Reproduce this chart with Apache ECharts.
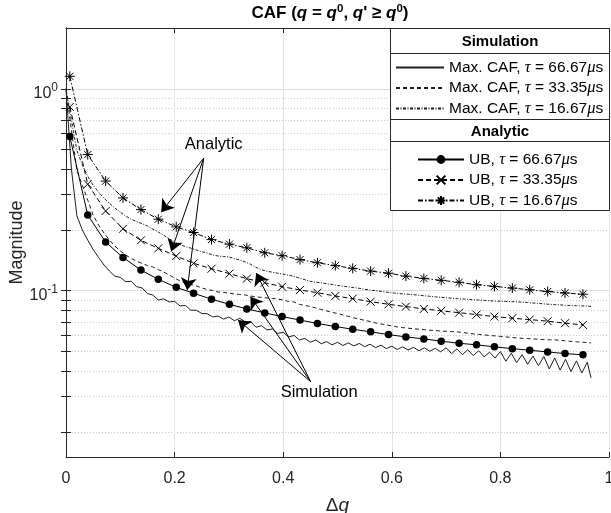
<!DOCTYPE html>
<html>
<head>
<meta charset="utf-8">
<script src="https://cdn.jsdelivr.net/npm/echarts@6/dist/echarts.min.js"></script>
<style>
  html, body { margin: 0; padding: 0; background: #fff; }
  #chart { width: 611px; height: 513px; }
</style>
</head>
<body>
<div id="chart"></div>
<script>
// ---- Analytic upper bounds (marker positions along Δq) ----
const ubDq = [0.007, 0.040, 0.073, 0.105, 0.138, 0.170, 0.203, 0.235, 0.268, 0.301,
              0.333, 0.366, 0.398, 0.431, 0.463, 0.496, 0.528, 0.561, 0.594, 0.626,
              0.659, 0.691, 0.724, 0.756, 0.789, 0.822, 0.854, 0.887, 0.919, 0.952];
const ub66 = [0.580, 0.237, 0.174, 0.146, 0.1265, 0.1138, 0.1039, 0.0971, 0.0907, 0.0856,
              0.0812, 0.0776, 0.0744, 0.0715, 0.0688, 0.0664, 0.0644, 0.0625, 0.0606, 0.0590,
              0.0577, 0.0562, 0.0549, 0.0539, 0.0527, 0.0516, 0.0507, 0.0497, 0.0488, 0.0481];
const ub33 = [0.813, 0.337, 0.248, 0.2025, 0.1775, 0.162, 0.1484, 0.1366, 0.1284, 0.1214,
              0.1147, 0.1095, 0.1046, 0.1008, 0.0977, 0.0941, 0.0913, 0.0882, 0.0856, 0.0834,
              0.0812, 0.0794, 0.0778, 0.0761, 0.0744, 0.0730, 0.0719, 0.0706, 0.0690, 0.0677];
const ub16 = [1.153, 0.472, 0.349, 0.288, 0.252, 0.226, 0.207, 0.194, 0.179, 0.170,
              0.163, 0.154, 0.149, 0.1425, 0.1375, 0.133, 0.129, 0.125, 0.122, 0.118,
              0.115, 0.1125, 0.110, 0.107, 0.105, 0.103, 0.101, 0.099, 0.0974, 0.0960];

// ---- Simulated maximum CAF ----
const simDq = [0.00, 0.01, 0.02, 0.03, 0.04, 0.05, 0.06, 0.07, 0.08, 0.09,
               0.10, 0.11, 0.12, 0.13, 0.14, 0.15, 0.16, 0.17, 0.18, 0.19,
               0.20, 0.21, 0.22, 0.23, 0.24, 0.25, 0.26, 0.27, 0.28, 0.29,
               0.30, 0.31, 0.32, 0.33, 0.34, 0.35, 0.36, 0.37, 0.38, 0.39,
               0.40, 0.41, 0.42, 0.43, 0.44, 0.45, 0.46, 0.47, 0.48, 0.49,
               0.50, 0.51, 0.52, 0.53, 0.54, 0.55, 0.56, 0.57, 0.58, 0.59,
               0.60, 0.61, 0.62, 0.63, 0.64, 0.65, 0.66, 0.67, 0.68, 0.69,
               0.70, 0.71, 0.72, 0.73, 0.74, 0.75, 0.76, 0.77, 0.78, 0.79,
               0.80, 0.81, 0.82, 0.83, 0.84, 0.85, 0.86, 0.87, 0.88, 0.89,
               0.90, 0.91, 0.92, 0.93, 0.94, 0.95, 0.96, 0.967];
const sim66 = [1.0, 0.40, 0.235, 0.200, 0.178, 0.160, 0.146, 0.134, 0.125, 0.118,
               0.1164, 0.1107, 0.1113, 0.1047, 0.1032, 0.0968, 0.0951, 0.0899, 0.0911, 0.0879,
               0.0886, 0.0840, 0.0845, 0.0800, 0.0800, 0.0771, 0.0769, 0.0741, 0.0749, 0.0723,
               0.0740, 0.0710, 0.0730, 0.0700, 0.0702, 0.0659, 0.0671, 0.0639, 0.0646, 0.0614,
               0.0622, 0.0590, 0.0600, 0.0570, 0.0580, 0.0555, 0.0570, 0.0546, 0.0559, 0.0539,
               0.0555, 0.0535, 0.0551, 0.0532, 0.0548, 0.0528, 0.0543, 0.0522, 0.0537, 0.0516,
               0.0531, 0.0511, 0.0527, 0.0508, 0.0524, 0.0504, 0.0521, 0.0501, 0.0518, 0.0498,
               0.0521, 0.0488, 0.0515, 0.0482, 0.0510, 0.0477, 0.0504, 0.0470, 0.0496, 0.0464,
               0.0499, 0.0447, 0.0490, 0.0440, 0.0482, 0.0432, 0.0474, 0.0425, 0.0472, 0.0410,
               0.0464, 0.0404, 0.0457, 0.0397, 0.0449, 0.0391, 0.0442, 0.0370];
const sim33 = [1.0, 0.623, 0.395, 0.333, 0.281, 0.2367, 0.2113, 0.1929, 0.1781, 0.1664,
               0.1572, 0.1502, 0.1443, 0.1402, 0.1363, 0.1332, 0.1310, 0.1272, 0.1237, 0.1196,
               0.1156, 0.1117, 0.1092, 0.1073, 0.1055, 0.1031, 0.1014, 0.1002, 0.0985, 0.0980,
               0.0974, 0.0963, 0.0958, 0.0952, 0.0941, 0.0931, 0.0926, 0.0920, 0.0915, 0.0910,
               0.0899, 0.0884, 0.0879, 0.0855, 0.0845, 0.0834, 0.0821, 0.0807, 0.0794, 0.0780,
               0.0771, 0.0758, 0.0746, 0.0733, 0.0724, 0.0712, 0.0704, 0.0692, 0.0684, 0.0677,
               0.0669, 0.0661, 0.0656, 0.0652, 0.0648, 0.0644, 0.0641, 0.0637, 0.0634, 0.0631,
               0.0629, 0.0627, 0.0625, 0.0621, 0.0616, 0.0611, 0.0607, 0.0604, 0.0600, 0.0597,
               0.0593, 0.0590, 0.0587, 0.0583, 0.0581, 0.0579, 0.0577, 0.0575, 0.0572, 0.0571,
               0.0571, 0.0567, 0.0564, 0.0561, 0.0558, 0.0556, 0.0553, 0.0551];
const sim16 = [1.0, 0.70, 0.496, 0.419, 0.369, 0.333, 0.308, 0.287, 0.271, 0.2565,
               0.245, 0.234, 0.226, 0.2197, 0.2148, 0.209, 0.2016, 0.1951, 0.188, 0.181,
               0.174, 0.169, 0.1654, 0.1624, 0.159, 0.156, 0.1537, 0.1502, 0.1485, 0.1477,
               0.1468, 0.1443, 0.1419, 0.1388, 0.1350, 0.1305, 0.1269, 0.1248, 0.1234, 0.1220,
               0.1207, 0.1193, 0.1177, 0.1153, 0.1133, 0.1112, 0.1102, 0.1093, 0.1082, 0.1073,
               0.1061, 0.1053, 0.1044, 0.1035, 0.1027, 0.1016, 0.1007, 0.0999, 0.0992, 0.0983,
               0.0976, 0.0969, 0.0964, 0.0960, 0.0955, 0.0949, 0.0943, 0.0938, 0.0932, 0.0927,
               0.0922, 0.0918, 0.0913, 0.0910, 0.0906, 0.0902, 0.0899, 0.0896, 0.0892, 0.0888,
               0.0886, 0.0884, 0.0882, 0.0880, 0.0877, 0.0873, 0.0869, 0.0865, 0.0860, 0.0856,
               0.0853, 0.0850, 0.0847, 0.0844, 0.0842, 0.0840, 0.0839, 0.0835];

// ---- Series names and axis ticks ----
const simNames = ['Max. CAF, τ = 66.67μs', 'Max. CAF, τ = 33.35μs', 'Max. CAF, τ = 16.67μs'];
const ubNames = ['UB, τ = 66.67μs', 'UB, τ = 33.35μs', 'UB, τ = 16.67μs'];
const xTickStep = 0.2;
const yLabelVals = [0.1, 1];
const yTickVals = [0.02, 0.03, 0.04, 0.05, 0.06, 0.07, 0.08, 0.09, 0.1,
                   0.2, 0.3, 0.4, 0.5, 0.6, 0.7, 0.8, 0.9, 1];

// Annotation arrows: [from, to] in (Δq, magnitude)
const analyticArrows = [
  [[0.2536, 0.453], [0.1753, 0.2449]],
  [[0.2536, 0.453], [0.1937, 0.1563]],
  [[0.2536, 0.453], [0.2232, 0.1008]]
];
const simulationArrows = [
  [[0.4506, 0.0354], [0.3168, 0.0716]],
  [[0.4506, 0.0354], [0.3396, 0.0934]],
  [[0.4506, 0.0354], [0.3503, 0.1224]]
];
const analyticNoteAt = [0.272, 0.531];
const simulationNoteAt = [0.4663, 0.03136];

const FONT = 'Liberation Sans, Arial, Helvetica, sans-serif';
const AX = '#262626';

const starPath = 'path://M5,0L5,10M0,5L10,5M1.46,1.46L8.54,8.54M8.54,1.46L1.46,8.54';
const crossPath = 'path://M0,0L10,10M10,0L0,10';

function pairs(xs, ys) { return xs.map((x, i) => [x, ys[i]]); }

// "τ" and "μ" are set in an italic serif face, like TeX symbols
function richName(name) {
  return name.split(/([τμ])/).filter(s => s.length).map(s =>
    (s === 'τ' || s === 'μ') ? '{g|' + s + '}' : '{n|' + s + '}').join('');
}
const legendRich = {
  n: { fontFamily: FONT, fontSize: 15.5, color: '#000' },
  g: { fontFamily: 'Liberation Serif, serif', fontStyle: 'italic', fontSize: 16.5, color: '#000' }
};

const logRange = { type: 'log', logBase: 10, min: 0.015, max: 2 };

const chart = echarts.init(document.getElementById('chart'));

const option = {
  animation: false,
  backgroundColor: '#fff',
  title: {
    text: '{b|CAF (}{i|q}{b| = }{i|q}{s|0}{b|, }{i|q}{b|\' ≥ }{i|q}{s|0}{b|)}',
    left: 330, top: 3, textAlign: 'center', padding: 0,
    textStyle: {
      rich: {
        b: { fontFamily: FONT, fontWeight: 'bold', fontSize: 17, color: '#000' },
        i: { fontFamily: FONT, fontWeight: 'bold', fontStyle: 'italic', fontSize: 17, color: '#000' },
        s: { fontFamily: FONT, fontWeight: 'bold', fontSize: 11.5, color: '#000', padding: [0, 0, 9, 0] }
      }
    }
  },
  grid: { left: 66, right: 2, top: 28, bottom: 56, outerBoundsMode: 'none', containLabel: false },
  legend: [
    {
      data: simNames.map(n => ({ name: n, itemStyle: { opacity: 0 } })),
      orient: 'vertical', left: 395, top: 59, padding: 0,
      itemWidth: 48, itemHeight: 10, itemGap: 3.5, selectedMode: false, z: 60,
      formatter: richName, textStyle: { rich: legendRich }
    },
    {
      data: ubNames, orient: 'vertical', left: 417, top: 151, padding: 0,
      itemWidth: 46, itemHeight: 11, itemGap: 3.5, selectedMode: false, z: 60,
      formatter: richName, textStyle: { rich: legendRich }
    }
  ],
  xAxis: [
    {
      type: 'value', min: 0, max: 1, interval: xTickStep, position: 'bottom',
      name: '{d|Δ}{q|q}', nameLocation: 'middle', nameGap: 39, nameMoveOverlap: false,
      nameTextStyle: {
        rich: {
          d: { fontFamily: FONT, fontSize: 19, color: AX },
          q: { fontFamily: FONT, fontStyle: 'italic', fontSize: 19, color: AX }
        }
      },
      axisLine: { show: true, lineStyle: { color: AX, width: 1 } },
      axisTick: { show: true, inside: true, length: 5, lineStyle: { color: AX } },
      axisLabel: { fontFamily: FONT, fontSize: 16, color: AX, margin: 14 },
      splitLine: { show: true, lineStyle: { color: '#e4e4e4', width: 1 } }
    },
    {
      type: 'value', min: 0, max: 1, interval: xTickStep, position: 'top',
      axisLine: { show: true, lineStyle: { color: AX, width: 1 } },
      axisTick: { show: true, inside: true, length: 5, lineStyle: { color: AX } },
      axisLabel: { show: false }, splitLine: { show: false }
    }
  ],
  yAxis: [
    Object.assign({}, logRange, {
      position: 'left',
      name: 'Magnitude', nameLocation: 'middle', nameGap: 40, nameMoveOverlap: false,
      nameTextStyle: { fontFamily: FONT, fontSize: 18, color: AX },
      axisLine: { show: true, lineStyle: { color: AX, width: 1 } },
      axisTick: { show: true, inside: true, length: 5, customValues: yTickVals, lineStyle: { color: AX } },
      axisLabel: {
        customValues: yLabelVals, margin: 8,
        formatter: function (v) {
          const e = Math.round(Math.log10(v));
          return '{b|10}{s|' + e + '}';
        },
        rich: {
          b: { fontFamily: FONT, fontSize: 16, color: AX, padding: [10, 0, 0, 0] },
          s: { fontFamily: FONT, fontSize: 12, color: AX, padding: [0, 0, 2, 0] }
        }
      },
      // minor (dotted) grid at every tick
      splitLine: { show: true, lineStyle: { color: '#c8c8c8', width: 1, type: [1, 2] } }
    }),
    Object.assign({}, logRange, {
      position: 'right',
      axisLine: { show: true, lineStyle: { color: AX, width: 1 } },
      axisTick: { show: true, inside: true, length: 5, customValues: yTickVals, lineStyle: { color: AX } },
      axisLabel: { show: false }, splitLine: { show: false }
    }),
    Object.assign({}, logRange, {
      // carries only the solid decade grid lines
      position: 'left', show: true,
      axisLine: { show: false },
      axisTick: { show: false, customValues: yLabelVals },
      axisLabel: { show: false, customValues: yLabelVals },
      splitLine: { show: true, lineStyle: { color: '#dcdcdc', width: 1, type: 'solid' } }
    })
  ],
  series: [
    {
      name: simNames[0], type: 'line', data: pairs(simDq, sim66), symbol: 'none', z: 2,
      lineStyle: { color: '#1e1e1e', width: 1, type: 'solid' }, itemStyle: { color: '#1e1e1e' }
    },
    {
      name: simNames[1], type: 'line', data: pairs(simDq, sim33), symbol: 'none', z: 2,
      lineStyle: { color: '#1e1e1e', width: 1, type: [4, 3] }, itemStyle: { color: '#1e1e1e' }
    },
    {
      name: simNames[2], type: 'line', data: pairs(simDq, sim16), symbol: 'none', z: 2,
      lineStyle: { color: '#1e1e1e', width: 1, type: [3, 1.5, 1, 1.5] }, itemStyle: { color: '#1e1e1e' }
    },
    {
      name: ubNames[0], type: 'line', data: pairs(ubDq, ub66), z: 3,
      symbol: 'circle', symbolSize: 7.5,
      lineStyle: { color: '#000', width: 1, type: 'solid' },
      itemStyle: { color: '#000', borderWidth: 0 }
    },
    {
      name: ubNames[1], type: 'line', data: pairs(ubDq, ub33), z: 3,
      symbol: crossPath, symbolSize: 8,
      lineStyle: { color: '#000', width: 1, type: [5, 3] },
      itemStyle: { color: '#000', borderColor: '#000', borderWidth: 1 }
    },
    {
      name: ubNames[2], type: 'line', data: pairs(ubDq, ub16), z: 3,
      symbol: starPath, symbolSize: 10,
      lineStyle: { color: '#000', width: 1, type: [5, 2, 1.5, 2] },
      itemStyle: { color: '#000', borderColor: '#000', borderWidth: 1 }
    },
    {
      // annotation arrows
      type: 'line', data: [], z: 4, silent: true,
      markLine: {
        silent: true, symbol: ['none', 'arrow'], symbolSize: 12, label: { show: false }, animation: false,
        lineStyle: { color: '#000', width: 1, type: 'solid' },
        itemStyle: { color: '#000' },
        data: analyticArrows.concat(simulationArrows).map(a => [{ coord: a[0] }, { coord: a[1] }])
      }
    }
  ]
};

chart.setOption(option);

// legend frames, section headers and annotation labels
const pA = chart.convertToPixel({ xAxisIndex: 0, yAxisIndex: 0 }, analyticNoteAt);
const pS = chart.convertToPixel({ xAxisIndex: 0, yAxisIndex: 0 }, simulationNoteAt);
const boxL = 390.5, boxR = 609.5;
chart.setOption({
  graphic: {
    elements: [
      { type: 'rect', z: 50, shape: { x: boxL, y: 28.5, width: boxR - boxL, height: 91 },
        style: { fill: '#fff', stroke: AX, lineWidth: 1 } },
      { type: 'line', z: 51, shape: { x1: boxL, y1: 53.5, x2: boxR, y2: 53.5 }, style: { stroke: AX, lineWidth: 1 } },
      { type: 'rect', z: 50, shape: { x: boxL, y: 119.5, width: boxR - boxL, height: 91 },
        style: { fill: '#fff', stroke: AX, lineWidth: 1 } },
      { type: 'line', z: 51, shape: { x1: boxL, y1: 141.5, x2: boxR, y2: 141.5 }, style: { stroke: AX, lineWidth: 1 } },
      { type: 'text', z: 52, x: 500, y: 41.5,
        style: { text: 'Simulation', font: 'bold 15px ' + FONT, fill: '#000', align: 'center', verticalAlign: 'middle' } },
      { type: 'text', z: 52, x: 500, y: 131.5,
        style: { text: 'Analytic', font: 'bold 15px ' + FONT, fill: '#000', align: 'center', verticalAlign: 'middle' } },
      { type: 'text', z: 52, x: pA[0], y: pA[1],
        style: { text: 'Analytic', font: '16.5px ' + FONT, fill: '#000', align: 'center', verticalAlign: 'middle' } },
      { type: 'text', z: 52, x: pS[0], y: pS[1],
        style: { text: 'Simulation', font: '16.5px ' + FONT, fill: '#000', align: 'center', verticalAlign: 'middle' } }
    ]
  }
});
</script>
</body>
</html>
